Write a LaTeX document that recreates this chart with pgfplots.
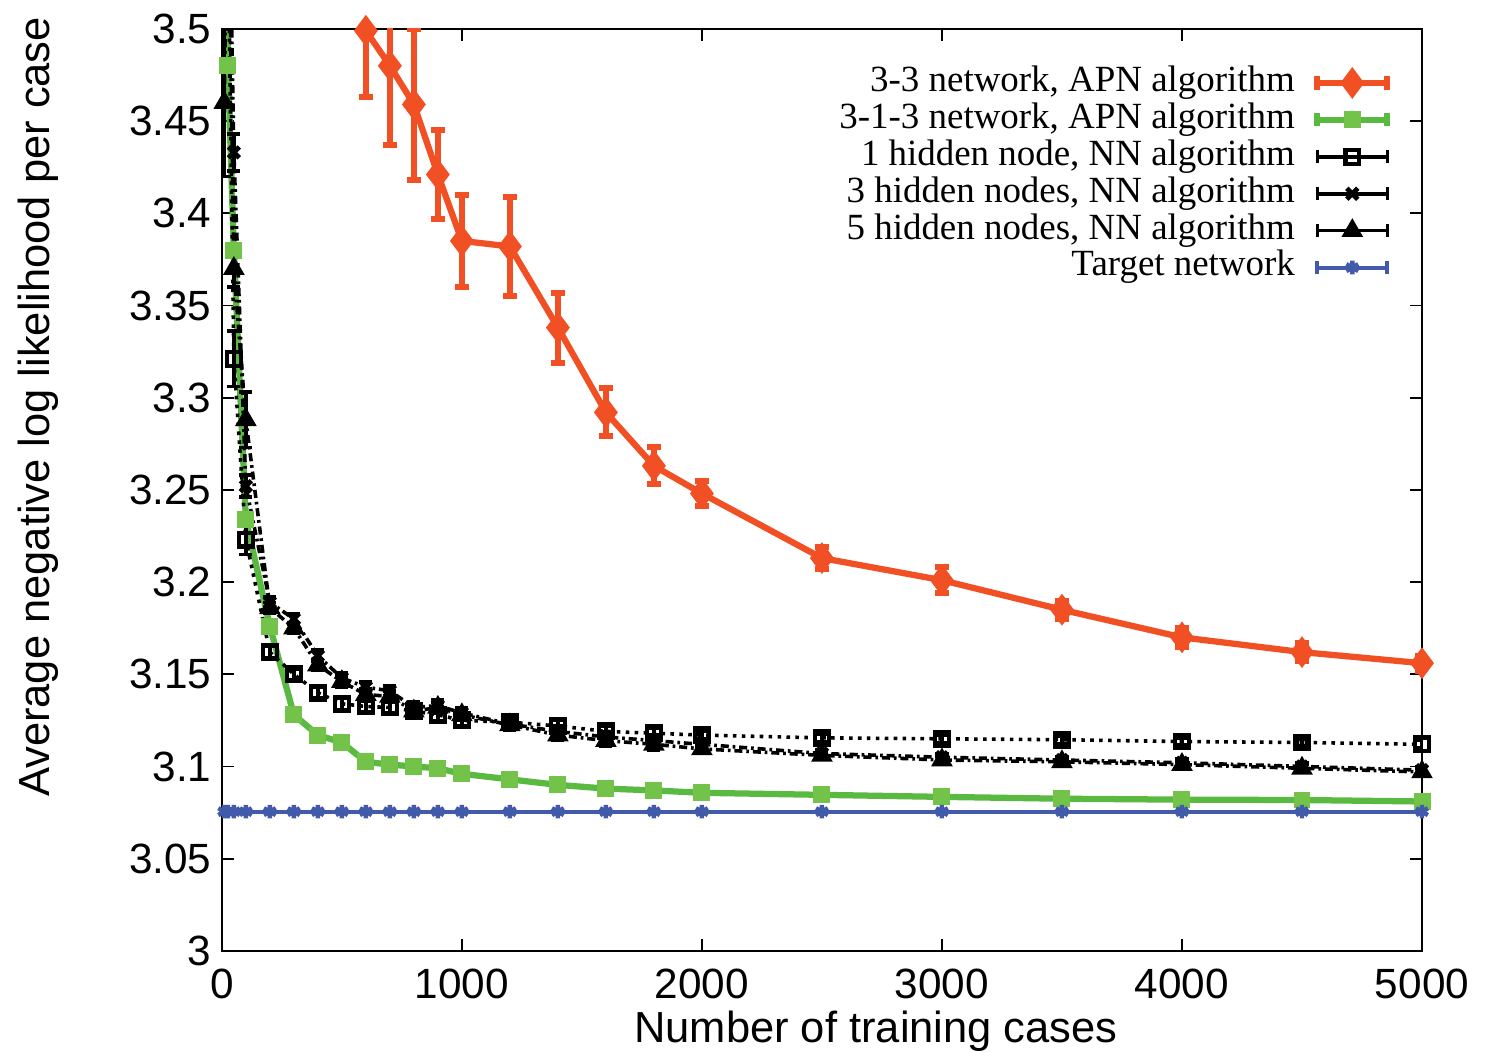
\documentclass[border=0pt]{standalone}
\usepackage{fontspec}
\setmainfont{Liberation Serif}
\newfontfamily\hv{Liberation Sans}
\usepackage{pgfplots}
\pgfplotsset{compat=1.18}

\definecolor{apnred}{RGB}{240,80,35}
\definecolor{apngreen}{RGB}{90,185,65}
\definecolor{apngreenmk}{RGB}{115,195,75}
\definecolor{tgtblue}{RGB}{66,90,170}

\begin{document}
\begin{tikzpicture}
\begin{axis}[
name=ax,
scale only axis,
width=403pt, height=309.6pt,
xmin=0, xmax=5000, ymin=3, ymax=3.5,
xtick={0,1000,2000,3000,4000,5000},
ytick={3,3.05,3.1,3.15,3.2,3.25,3.3,3.35,3.4,3.45,3.5},
tick align=inside,
major tick length=4pt,
tick style={black, line width=0.6pt},
axis line style={line width=0.8pt},
/pgf/number format/assume math mode=true,
yticklabel style={/pgf/number format/fixed, /pgf/number format/precision=2},
scaled x ticks=false,
xticklabel style={/pgf/number format/set thousands separator={}, inner sep=0pt, yshift=-6pt},
tick label style={font=\hv\fontsize{14.2}{16}\selectfont},
xlabel={Number of training cases},
ylabel={Average negative log likelihood per case},
every axis x label/.style={at={(axis description cs:0.545,-0.099)}, anchor=base, inner sep=0pt,
  font=\hv\fontsize{14.6}{16}\selectfont},
every axis y label/.style={at={(axis description cs:-0.153,0.59)}, rotate=90, anchor=center,
  font=\hv\fontsize{14.6}{16}\selectfont},
legend plot pos=right,
legend cell align=right,
legend style={at={(axis description cs:0.9742,0.962)}, anchor=north east,
  draw=none, fill=none, inner sep=0pt, column sep=6.5pt,
  nodes={inner sep=0pt, text height=9pt, text depth=3.4pt},
  font=\fontsize{12.4}{14}\selectfont},
legend image code/.code={
  \draw[#1, solid, mark=none] (0pt,0pt) -- (23.5pt,0pt);
  \draw[#1, solid, mark=none] (0pt,-2.2pt) -- (0pt,2.2pt) (23.5pt,-2.2pt) -- (23.5pt,2.2pt);
  \draw[#1, solid] plot coordinates {(11.75pt,0pt)};
},
]

% 3-3 network, APN
\addplot[apnred, line width=2.1pt, mark=diamond*, mark size=3.6pt, mark options={solid},
  error bars/.cd, y dir=both, y explicit,
  error bar style={line width=2pt},
  error mark options={rotate=90, mark size=2.4pt, line width=2pt}]
table[x=x, y=y, y error=e] {
x y e
600 3.499 0.036
700 3.480 0.043
800 3.459 0.041
900 3.421 0.024
1000 3.385 0.025
1200 3.382 0.027
1400 3.338 0.019
1600 3.292 0.013
1800 3.263 0.010
2000 3.248 0.007
2500 3.213 0.006
3000 3.201 0.007
3500 3.185 0.005
4000 3.170 0.005
4500 3.162 0.005
5000 3.156 0.004
};
\addlegendentry{3-3 network, APN algorithm}

% 3-1-3 network, APN
\addplot[apngreen, line width=2.1pt, mark=square*, mark size=1.8pt, mark options={solid, apngreenmk},
  error bars/.cd, y dir=both, y explicit,
  error bar style={line width=1.5pt, apngreenmk},
  error mark options={rotate=90, mark size=2pt, line width=1.5pt, apngreenmk}]
table[x=x, y=y, y error=e] {
x y e
10 3.70 0.003
25 3.48 0.003
50 3.38 0.003
100 3.234 0.003
200 3.176 0.003
300 3.128 0.003
400 3.117 0.003
500 3.113 0.003
600 3.1025 0.002
700 3.101 0.002
800 3.100 0.002
900 3.099 0.002
1000 3.096 0.002
1200 3.093 0.002
1400 3.090 0.002
1600 3.088 0.002
1800 3.087 0.002
2000 3.0857 0.002
2500 3.0846 0.002
3000 3.0835 0.002
3500 3.0825 0.002
4000 3.082 0.002
4500 3.0818 0.002
5000 3.081 0.002
};
\addlegendentry{3-1-3 network, APN algorithm}

% 1 hidden node, NN
\addplot[black, line width=1.2pt, dash pattern=on 1.2pt off 1.8pt, mark=square, mark size=2.3pt,
  mark options={solid, line width=1.4pt},
  error bars/.cd, y dir=both, y explicit,
  error bar style={line width=1.2pt, solid},
  error mark options={rotate=90, mark size=2.2pt, line width=1.2pt}]
table[x=x, y=y, y error=e] {
x y e
10 3.80 0.02
25 3.56 0.02
50 3.321 0.015
100 3.223 0.008
200 3.162 0.003
300 3.150 0.003
400 3.140 0.003
500 3.134 0.003
600 3.1325 0.003
700 3.132 0.003
800 3.130 0.003
900 3.128 0.003
1000 3.125 0.003
1200 3.124 0.003
1400 3.122 0.003
1600 3.119 0.003
1800 3.118 0.003
2000 3.117 0.002
2500 3.1155 0.002
3000 3.115 0.002
3500 3.1145 0.002
4000 3.1135 0.002
4500 3.113 0.002
5000 3.112 0.002
};
\addlegendentry{1 hidden node, NN algorithm}

% 3 hidden nodes, NN
\addplot[black, line width=1.2pt, dash pattern=on 2.7pt off 1.3pt on 0.9pt off 1.3pt, mark=x, mark size=2.6pt,
  mark options={solid, line width=1.6pt},
  error bars/.cd, y dir=both, y explicit,
  error bar style={line width=1.2pt, solid},
  error mark options={rotate=90, mark size=2.2pt, line width=1.2pt}]
table[x=x, y=y, y error=e] {
x y e
10 3.85 0.02
25 3.62 0.02
50 3.433 0.010
100 3.252 0.006
200 3.189 0.003
300 3.180 0.003
400 3.160 0.003
500 3.148 0.003
600 3.143 0.003
700 3.141 0.003
800 3.132 0.003
900 3.133 0.003
1000 3.129 0.003
1200 3.123 0.003
1400 3.119 0.003
1600 3.116 0.003
1800 3.114 0.003
2000 3.112 0.002
2500 3.107 0.002
3000 3.105 0.002
3500 3.1035 0.002
4000 3.102 0.002
4500 3.100 0.002
5000 3.098 0.002
};
\addlegendentry{3 hidden nodes, NN algorithm}

% 5 hidden nodes, NN
\addplot[black, line width=1.2pt, dash pattern=on 2.7pt off 1.3pt on 0.9pt off 1.3pt, mark=triangle*, mark size=3pt,
  mark options={solid},
  error bars/.cd, y dir=both, y explicit,
  error bar style={line width=1.2pt, solid},
  error mark options={rotate=90, mark size=2.2pt, line width=1.2pt}]
table[x=x, y=y, y error=e] {
x y e
10 3.46 0.040
25 3.60 0.020
50 3.37 0.010
100 3.288 0.015
200 3.186 0.003
300 3.175 0.003
400 3.155 0.003
500 3.146 0.003
600 3.139 0.003
700 3.138 0.003
800 3.130 0.003
900 3.132 0.003
1000 3.128 0.003
1200 3.1225 0.003
1400 3.117 0.003
1600 3.114 0.003
1800 3.112 0.003
2000 3.1095 0.002
2500 3.106 0.002
3000 3.1035 0.002
3500 3.1025 0.002
4000 3.101 0.002
4500 3.099 0.002
5000 3.097 0.002
};
\addlegendentry{5 hidden nodes, NN algorithm}

% Target network
\addplot[tgtblue, line width=1.3pt, mark=asterisk, mark size=2.3pt, mark options={solid, line width=1.5pt}]
table {
10 3.0755
25 3.0755
50 3.0755
100 3.0755
200 3.0755
300 3.0755
400 3.0755
500 3.0755
600 3.0755
700 3.0755
800 3.0755
900 3.0755
1000 3.0755
1200 3.0755
1400 3.0755
1600 3.0755
1800 3.0755
2000 3.0755
2500 3.0755
3000 3.0755
3500 3.0755
4000 3.0755
4500 3.0755
5000 3.0755
};
\addlegendentry{Target network}

\end{axis}
\path ([xshift=-74.5pt,yshift=-32.9pt]ax.south west) rectangle ([xshift=22.5pt,yshift=9.7pt]ax.north east);
\end{tikzpicture}
\end{document}
